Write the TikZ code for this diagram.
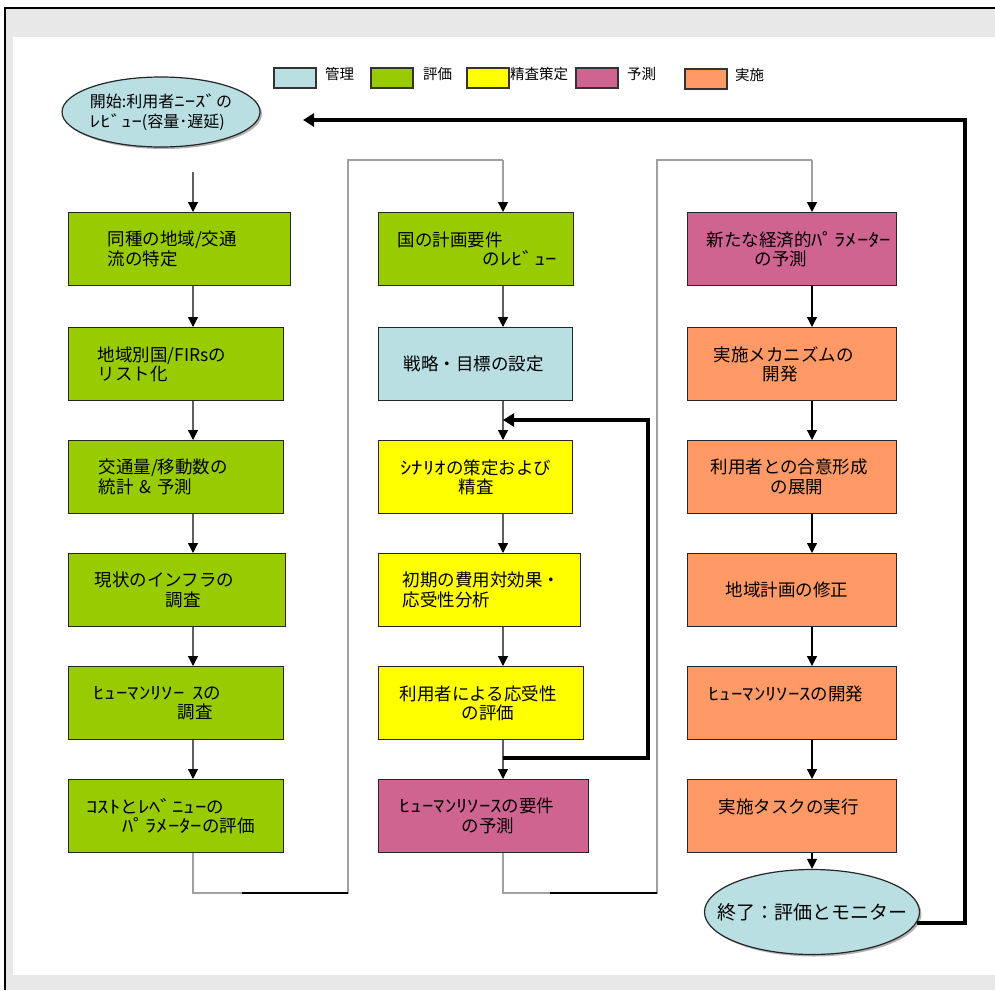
\documentclass[tikz,border=0pt]{standalone}
\usepackage{graphicx}
\usepackage{fontspec}
\setmainfont{Noto Sans CJK JP}
\usetikzlibrary{shapes.geometric,arrows.meta,shadows}
\definecolor{cmanage}{HTML}{B9DFE3}
\definecolor{ceval}{HTML}{99CC00}
\definecolor{cplan}{HTML}{FFFF00}
\definecolor{cpred}{HTML}{CF6490}
\definecolor{cimpl}{HTML}{FF9966}
\definecolor{bgray}{HTML}{E8E8E8}
\definecolor{lgray}{HTML}{A0A0A0}
\definecolor{dgray}{HTML}{606060}
\newcommand\ind[1]{\hspace*{#1pt}}
\newcommand\hk[1]{\scalebox{1.3}[1]{#1}}
\begin{document}
\begin{tikzpicture}[x=1pt,y=-1pt,
  bx/.style 2 args={draw=black!85, line width=1.2pt, fill=#1, anchor=north west,
    minimum height=73pt, minimum width=#2pt, text width=#2pt,
    inner xsep=0pt, inner ysep=0pt, align=left, font=\fontsize{17.5}{19.5}\selectfont},
  lbox/.style={draw=black!80, line width=1.5pt, fill=#1, anchor=north west,
    minimum width=42pt, minimum height=20pt, inner sep=0pt},
  ltext/.style={anchor=west, inner sep=0pt, font=\fontsize{14.5}{16}\selectfont},
  tip/.style={-{Triangle[width=10pt,length=10pt,color=black]}},
  flow/.style={tip, draw=dgray, line width=1.3pt},
  flowk/.style={tip, draw=black, line width=1.3pt},
  gline/.style={draw=lgray, line width=1.5pt},
  thk/.style={draw=black, line width=4.5pt},
  thktip/.style={-{Triangle[width=13pt,length=11pt,color=black]}},
  ell/.style={ellipse, draw=black!85, line width=1.2pt, fill=cmanage,
    drop shadow={shadow xshift=2pt, shadow yshift=-2pt, fill=black!60}}
]
% frame and background
\useasboundingbox (0,0) rectangle (995,990);
\fill[white] (0,0) rectangle (995,990);
\fill[bgray] (5,8) rectangle (995,990);
\draw[black, line width=1.5pt] (5,990) -- (5,8) -- (995,8);
\fill[white] (13,37) rectangle (995,975);

% legend
\node[lbox=cmanage] (lg1) at (273,67) {};
\node[ltext] (lt1) at (325,74) {管理};
\node[lbox=ceval] (lg2) at (370,67) {};
\node[ltext] (lt2) at (423,74) {評価};
\node[lbox=cplan] (lg3) at (466,67) {};
\node[ltext] (lt3) at (510,74) {精査策定};
\node[lbox=cpred] (lg4) at (575,67) {};
\node[ltext] (lt4) at (627,74) {予測};
\node[lbox=cimpl] (lg5) at (684,68) {};
\node[ltext] (lt5) at (735,75) {実施};

% start ellipse
\node[ell, minimum width=198pt, minimum height=70pt, inner xsep=-40pt, inner ysep=-10pt,
  align=left, font=\fontsize{16}{20}\selectfont] (start) at (161,112)
  {開始:利用者\hk{ﾆｰｽﾞ}の\\\hk{ﾚﾋﾞｭｰ}(容量･遅延)};

% column 1
\node[bx={ceval}{222}] (c1b1) at (68,212) {\ind{39}同種の地域/交通\\\ind{39}流の特定};
\node[bx={ceval}{215}] (c1b2) at (68,327) {\ind{29}地域別国/FIRsの\\\ind{29}リスト化};
\node[bx={ceval}{215}] (c1b3) at (68,440) {\ind{30}交通量/移動数の\\\ind{30}統計 \& 予測};
\node[bx={ceval}{217}] (c1b4) at (68,553) {\ind{26}現状のインフラの\\\ind{97}調査};
\node[bx={ceval}{215}] (c1b5) at (68,666) {\ind{25}\hk{ﾋｭｰﾏﾝﾘｿｰ ｽ}の\\\ind{109}調査};
\node[bx={ceval}{215}] (c1b6) at (68,779) {\ind{18}\hk{ｺｽﾄ}と\hk{ﾚﾍﾞﾆｭｰ}の\\\ind{54}\hk{ﾊﾟﾗﾒｰﾀｰ}の評価};

% column 2
\node[bx={ceval}{195}] (c2b1) at (378,212) {\ind{19}国の計画要件\\\ind{104}の\hk{ﾚﾋﾞｭｰ}};
\node[bx={cmanage}{194}] (c2b2) at (378,327) {\ind{25}戦略・目標の設定};
\node[bx={cplan}{194}] (c2b3) at (378,440) {\ind{22}\hk{ｼﾅﾘｵ}の策定および\\\ind{80}精査};
\node[bx={cplan}{202}] (c2b4) at (378,553) {\ind{24}初期の費用対効果・\\\ind{24}応受性分析};
\node[bx={cplan}{205}] (c2b5) at (378,666) {\ind{21}利用者による応受性\\\ind{83}の評価};
\node[bx={cpred}{210}] (c2b6) at (378,779) {\ind{21}\hk{ﾋｭｰﾏﾝﾘｿｰｽ}の要件\\\ind{83}の予測};

% column 3
\node[bx={cpred}{209}] (c3b1) at (687,212) {\ind{19}新たな経済的\hk{ﾊﾟﾗﾒｰﾀｰ}\\\ind{67}の予測};
\node[bx={cimpl}{209}] (c3b2) at (687,327) {\ind{26}実施メカニズムの\\\ind{75}開発};
\node[bx={cimpl}{209}] (c3b3) at (687,440) {\ind{23}利用者との合意形成\\\ind{83}の展開};
\node[bx={cimpl}{209}] (c3b4) at (687,553) {\ind{38}地域計画の修正};
\node[bx={cimpl}{209}] (c3b5) at (687,666) {\ind{21}\hk{ﾋｭｰﾏﾝﾘｿｰｽ}の開発\\\mbox{}};
\node[bx={cimpl}{209}] (c3b6) at (687,779) {\ind{31}実施タスクの実行\\\mbox{}};

% end ellipse
\node[ell, minimum width=215pt, minimum height=85pt, inner xsep=-20pt, inner ysep=15pt,
  font=\fontsize{19}{22}\selectfont] (endE) at (812,912) {終了：評価とモニター};

% helper coordinates
\coordinate (x1) at (193,0);
\coordinate (x2) at (503,0);
\coordinate (x3) at (812,0);
\coordinate (s1) at (193,172);
\coordinate (j1a) at (193,893);
\coordinate (j1k) at (242,893);
\coordinate (j1b) at (348,893);
\coordinate (j1c) at (348,160);
\coordinate (j1d) at (503,160);
\coordinate (j2a) at (503,893);
\coordinate (j2k) at (550,893);
\coordinate (j2b) at (657,893);
\coordinate (j2c) at (657,160);
\coordinate (j2d) at (812,160);
\coordinate (fb0) at (503,758);
\coordinate (fb1) at (648,758);
\coordinate (fb2) at (648,420);
\coordinate (fb3) at (503,420);
\coordinate (rc) at (965,120);
\coordinate (ret) at (303,120);

% column 1 arrows
\draw[flow] (s1) -- (c1b1.north -| x1);
\draw[flow] (c1b1.south -| x1) -- (c1b2.north -| x1);
\draw[flow] (c1b2.south -| x1) -- (c1b3.north -| x1);
\draw[flow] (c1b3.south -| x1) -- (c1b4.north -| x1);
\draw[flow] (c1b4.south -| x1) -- (c1b5.north -| x1);
\draw[flow] (c1b5.south -| x1) -- (c1b6.north -| x1);

% column 1 -> column 2
\draw[gline] (c1b6.south -| x1) -- (j1a) -- (j1b) -- (j1c) -- (j1d);
\draw[black, line width=1.3pt] (j1k) -- (j1b);
\draw[gline, tip] (j1d) -- (c2b1.north -| x2);

% column 2 arrows
\draw[flow] (c2b1.south -| x2) -- (c2b2.north -| x2);
\draw[flow] (c2b2.south -| x2) -- (c2b3.north -| x2);
\draw[flow] (c2b3.south -| x2) -- (c2b4.north -| x2);
\draw[flow] (c2b4.south -| x2) -- (c2b5.north -| x2);
\draw[flow] (c2b5.south -| x2) -- (c2b6.north -| x2);

% feedback loop
\draw[thk, thktip] (fb0) -- (fb1) -- (fb2) -- (fb3);

% column 2 -> column 3
\draw[gline] (c2b6.south -| x2) -- (j2a) -- (j2b) -- (j2c) -- (j2d);
\draw[black, line width=1.3pt] (j2k) -- (j2b);
\draw[gline, tip] (j2d) -- (c3b1.north -| x3);

% column 3 arrows
\draw[flowk] (c3b1.south -| x3) -- (c3b2.north -| x3);
\draw[flowk] (c3b2.south -| x3) -- (c3b3.north -| x3);
\draw[flowk] (c3b3.south -| x3) -- (c3b4.north -| x3);
\draw[flowk] (c3b4.south -| x3) -- (c3b5.north -| x3);
\draw[flowk] (c3b5.south -| x3) -- (c3b6.north -| x3);
\draw[flowk] (c3b6.south -| x3) -- (endE.north);

% return loop
\draw[thk, thktip] (endE.-6) -| (rc) -- (ret);
\end{tikzpicture}
\end{document}
